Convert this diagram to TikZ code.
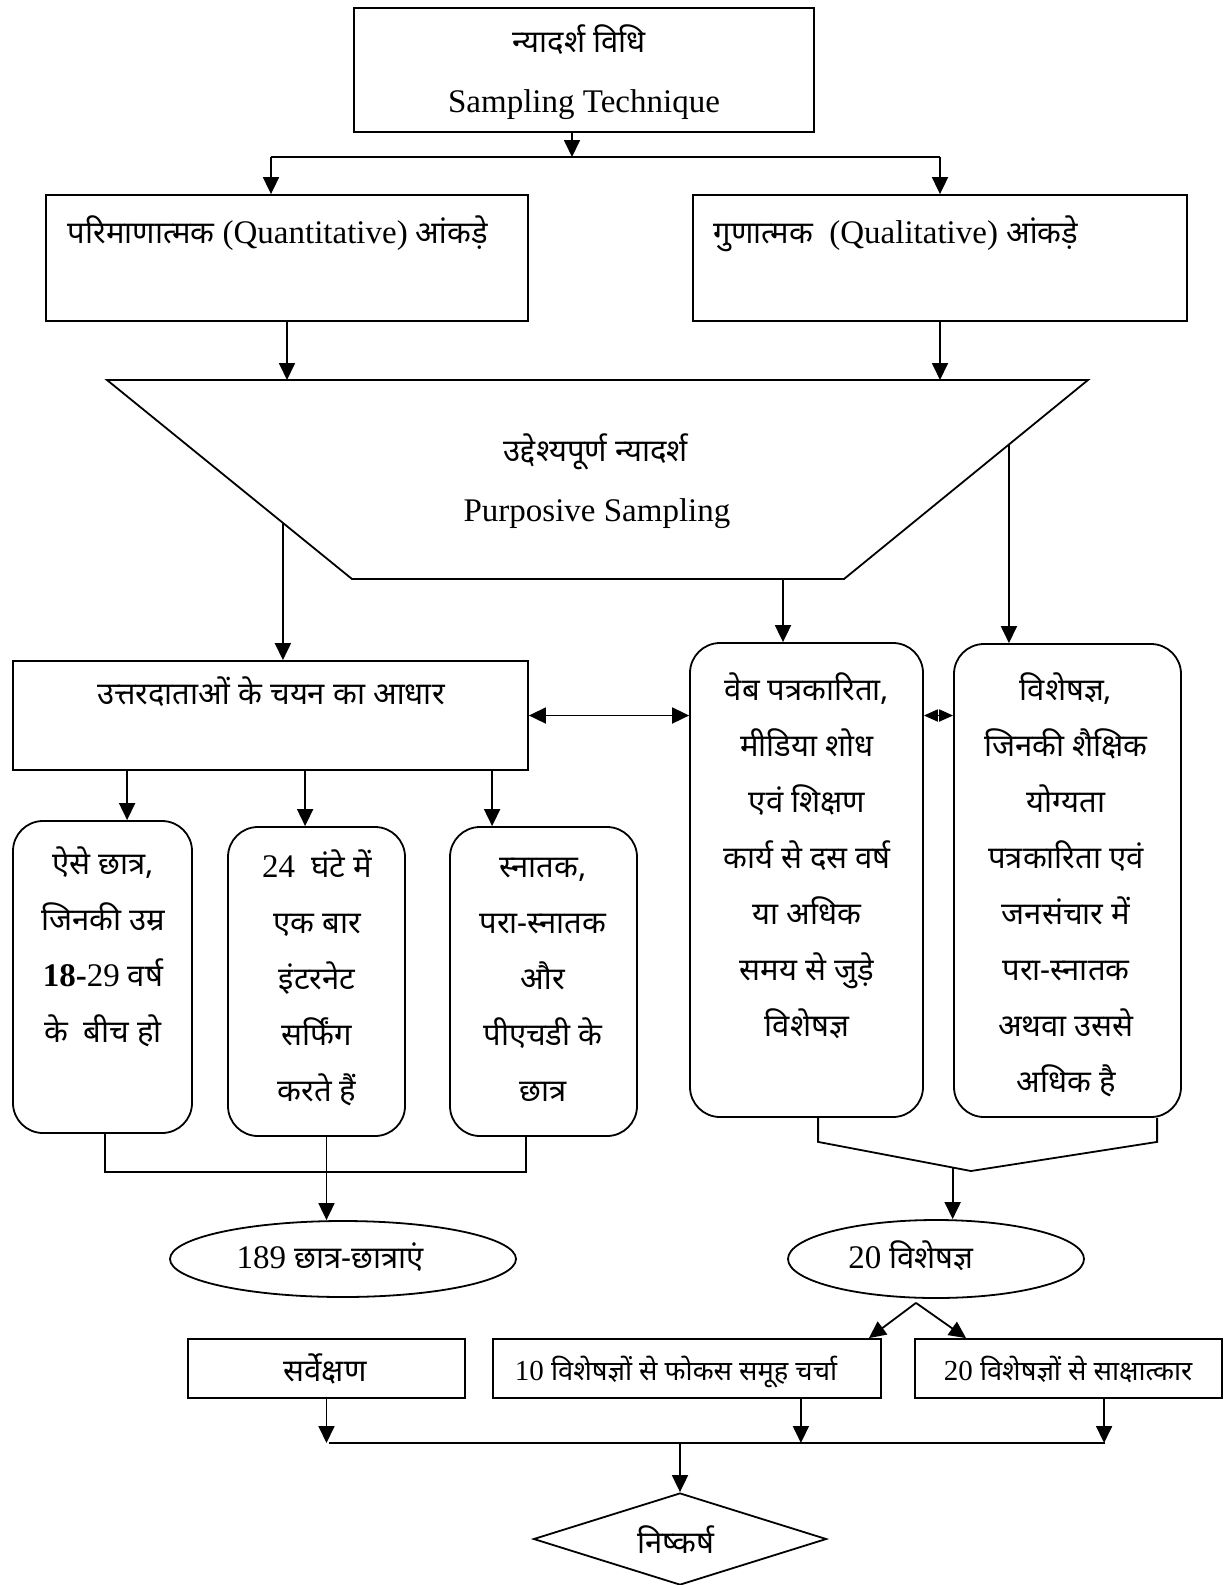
\documentclass[tikz,border=0pt]{standalone}
\usepackage{fontspec}
\setmainfont{Liberation Serif}
\newfontfamily\hi[Script=Devanagari,Scale=0.94]{Noto Sans}
\usetikzlibrary{arrows.meta,shapes.geometric,calc}
\newcommand{\stk}[4]{\foreach \t [count=\i] in {#4} {\node[hin,anchor=base] (#1\i) at (#2,{#3+56*(\i-1)}) {\t};}}
\begin{document}
\begin{tikzpicture}[x=1pt,y=-1pt, line width=1.8pt,
 every node/.style={inner sep=0pt},
 arr/.style={-{Triangle[length=17pt,width=16pt]}},
 darr/.style={{Triangle[length=17pt,width=16pt]}-{Triangle[length=17pt,width=16pt]}},
 sdarr/.style={{Triangle[length=14pt,width=12pt]}-{Triangle[length=14pt,width=12pt]}},
 sq/.style={draw, rectangle},
 rnd/.style={draw, rectangle, rounded corners=30pt},
 lat/.style={font=\fontsize{33}{38}\selectfont},
 hin/.style={font=\fontsize{33}{38}\selectfont\hi},
 latsm/.style={font=\fontsize{29}{34}\selectfont},
]
\useasboundingbox (0,0) rectangle (1225,1585);
% top
\node[sq, minimum width=460pt, minimum height=124pt] (top) at (584,70) {};
\node[hin, anchor=base] (top1) at (579,52) {न्यादर्श विधि};
\node[lat, anchor=base] (top2) at (584,112) {Sampling Technique};
\coordinate (tarr) at (572,132);
% data boxes
\node[sq, minimum width=482pt, minimum height=126pt] (q1) at (287,258) {};
\node[lat, anchor=base west] (q1t) at (67,243) {{\hi परिमाणात्मक} (Quantitative) {\hi आंकड़े}};
\node[sq, minimum width=494pt, minimum height=126pt] (q2) at (940,258) {};
\node[lat, anchor=base west] (q2t) at (713,243) {{\hi गुणात्मक}\ \ (Qualitative) {\hi आंकड़े}};
% funnel
\coordinate (t1) at (107,380);
\coordinate (t2) at (1088,380);
\coordinate (t3) at (844,579);
\coordinate (t4) at (352,579);
\draw (t1) -- (t2) -- (t3) -- (t4) -- cycle;
\node[hin, anchor=base] (p1) at (596,461) {उद्देश्यपूर्ण न्यादर्श};
\node[lat, anchor=base] (p2) at (597,521) {Purposive Sampling};
% respondents
\node[sq, minimum width=515pt, minimum height=109pt] (resp) at (270.5,715.5) {};
\node[hin, anchor=base] (respt) at (271,704) {उत्तरदाताओं के चयन का आधार};
% experts
\node[rnd, minimum width=233pt, minimum height=474pt] (web) at (806.5,880) {};
\node[rnd, minimum width=227pt, minimum height=473pt] (exp) at (1067.5,880.5) {};
\stk{w}{807}{700}{{वेब पत्रकारिता,},{मीडिया शोध},{एवं शिक्षण},{कार्य से दस वर्ष},{या अधिक},{समय से जुड़े},{विशेषज्ञ}}
\stk{e}{1066}{700}{{विशेषज्ञ,},{जिनकी शैक्षिक},{योग्यता},{पत्रकारिता एवं},{जनसंचार में},{परा-स्नातक},{अथवा उससे},{अधिक है}}
% student boxes
\node[rnd, minimum width=179pt, minimum height=312pt] (ba) at (102.5,977) {};
\stk{a}{103}{874}{{ऐसे छात्र,},{जिनकी उम्र},{{\rmfamily\textbf{18-}29} वर्ष},{के\ \ बीच हो}}
\node[rnd, minimum width=177pt, minimum height=309pt] (bb) at (316.5,981.5) {};
\stk{b}{317}{877}{{{\rmfamily 24}\ \ घंटे में},{एक बार},{इंटरनेट},{सर्फिंग},{करते हैं}}
\node[rnd, minimum width=187pt, minimum height=309pt] (bc) at (543.5,981.5) {};
\stk{c}{543}{877}{{स्नातक,},{परा-स्नातक},{और},{पीएचडी के},{छात्र}}
% ellipses
\node[draw, ellipse, minimum width=346pt, minimum height=76pt] (e1) at (343,1259) {};
\node[lat, anchor=base] (e1t) at (330,1268) {189 {\hi छात्र-छात्राएं}};
\node[draw, ellipse, minimum width=296pt, minimum height=78pt] (e2) at (936,1259) {};
\node[lat, anchor=base] (e2t) at (911,1268) {20 {\hi विशेषज्ञ}};
% bottom boxes
\node[sq, minimum width=277pt, minimum height=59pt] (sv) at (326.5,1368.5) {};
\node[hin, anchor=base] (svt) at (325,1381) {सर्वेक्षण};
\node[sq, minimum width=388pt, minimum height=59pt] (fg) at (687,1368.5) {};
\node[latsm, anchor=base] (fgt) at (676,1380) {10 {\hi विशेषज्ञों से फोकस समूह चर्चा}};
\node[sq, minimum width=307pt, minimum height=59pt] (iv) at (1068.5,1368.5) {};
\node[latsm, anchor=base] (ivt) at (1068,1380) {20 {\hi विशेषज्ञों से साक्षात्कार}};
% conclusion
\node[draw, diamond, minimum width=293pt, minimum height=92pt] (con) at (680,1539) {};
\node[hin, anchor=base] (cont) at (676,1553) {निष्कर्ष};
% connectors top
\coordinate (hl) at (271,157);
\coordinate (hr) at (940,157);
\draw[arr] (tarr) -- (tarr |- hl);
\draw (hl) -- (hr);
\draw[arr] (hl) -- (hl |- q1.north);
\draw[arr] (hr) -- (hr |- q2.north);
\draw[arr] (q1.south) -- (q1.south |- t1);
\draw[arr] (q2.south) -- (q2.south |- t1);
% from funnel
\coordinate (pl) at ($(t1)!0.718!(t4)$);
\coordinate (pm) at (783,579);
\coordinate (pr) at ($(t2)!0.324!(t3)$);
\draw[arr] (pl) -- (pl |- resp.north);
\draw[arr] (pm) -- (pm |- web.north);
\draw[arr] (pr) -- (pr |- exp.north);
% cross links
\draw[darr] (resp.east) -- (resp.east -| web.west);
\draw[sdarr] (web.east |- resp.east) -- (exp.west |- resp.east);
% respondents to boxes
\coordinate (da) at ($(resp.south west)+(115,0)$);
\coordinate (db) at ($(resp.south west)+(293,0)$);
\coordinate (dc) at ($(resp.south west)+(480,0)$);
\draw[arr] (da) -- (da |- ba.north);
\draw[arr] (db) -- (db |- bb.north);
\draw[arr] (dc) -- (dc |- bc.north);
% left bracket
\coordinate (lb1) at ($(ba.south west)+(93,0)$);
\coordinate (lb2) at ($(bc.south west)+(77,0)$);
\coordinate (lb3) at (0,1172);
\draw (lb1) -- (lb1 |- lb3) -- (lb2 |- lb3) -- (lb2);
\coordinate (lbs) at ($(bb.south)+(10,0)$);
\draw[arr] (lbs) -- (lbs |- e1.north);
% right bracket
\coordinate (rb1) at ($(web.south west)+(129,0)$);
\coordinate (rb2) at ($(rb1)+(0,24)$);
\coordinate (rb3) at (971,1171);
\coordinate (rb5) at ($(exp.south west)+(204,0)$);
\coordinate (rb4) at ($(rb5)+(0,24)$);
\draw (rb1) -- (rb2) -- (rb3) -- (rb4) -- (rb5);
\coordinate (rb6) at ($(rb2)!0.88!(rb3)$);
\draw[arr] (rb6) -- (rb6 |- e2.north);
% expert split
\coordinate (ap) at ($(e2.south)+(-20,4)$);
\draw[arr] (ap) -- ($(fg.north east)+(-13,0)$);
\draw[arr] (ap) -- ($(iv.north west)+(52,0)$);
% bottom collection
\coordinate (bl) at (329,1443);
\coordinate (br) at (1105,1443);
\coordinate (bf) at ($(fg.south east)+(-81,0)$);
\coordinate (bi) at ($(iv.south west)+(190,0)$);
\draw[arr] (sv.south) -- (sv.south |- bl);
\draw[arr] (bf) -- (bf |- bl);
\draw[arr] (bi) -- (bi |- bl);
\draw (bl) -- (br);
\draw[arr] (con.north |- bl) -- (con.north);
\end{tikzpicture}
\end{document}
